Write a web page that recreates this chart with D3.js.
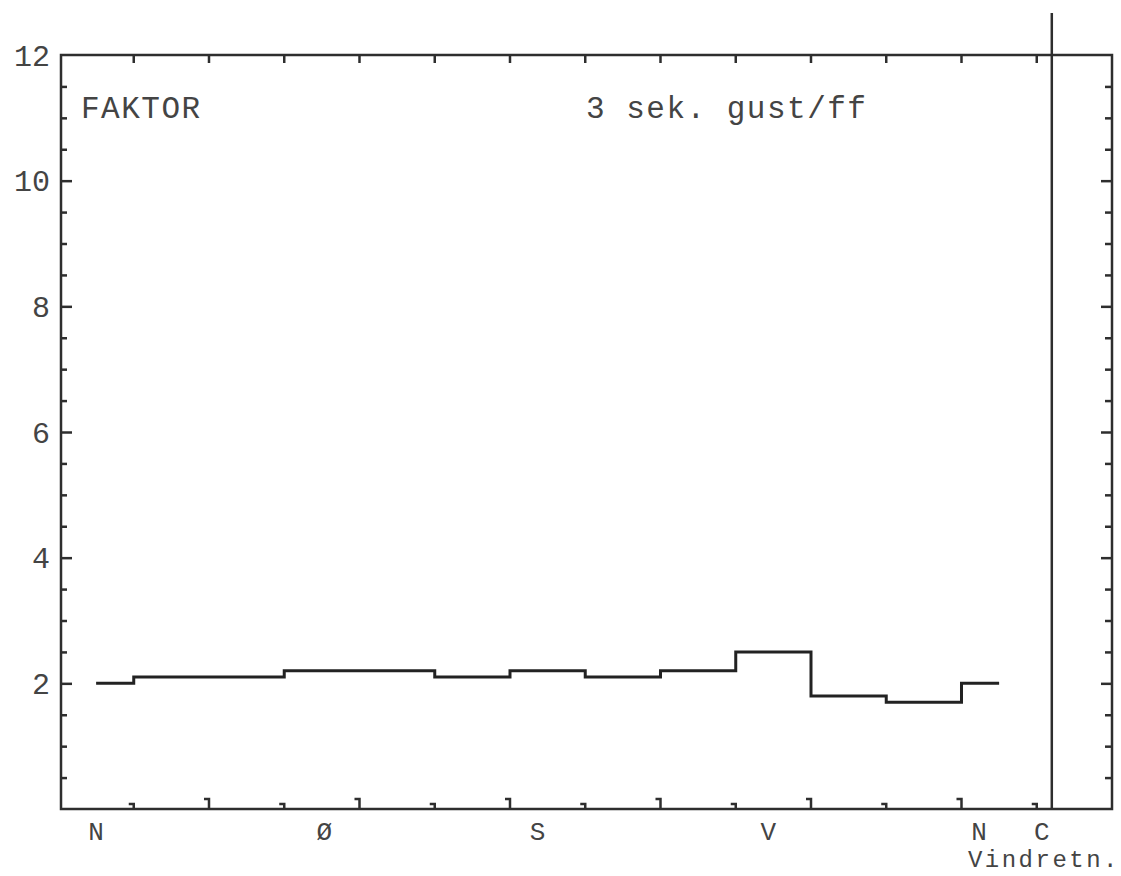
<!DOCTYPE html>
<html>
<head>
<meta charset="utf-8">
<script src="https://cdn.jsdelivr.net/npm/d3@7"></script>
<style>
  body { margin: 0; background: #fff; }
  text { font-family: "Courier New", "Liberation Mono", monospace; fill: #444; }
</style>
</head>
<body>
<div id="chart"></div>
<script>
// data //
var sectorDeg = [0, 30, 60, 90, 120, 150, 180, 210, 240, 270, 300, 330, 360],
    gustFactor = [2.0, 2.1, 2.1, 2.2, 2.2, 2.1, 2.2, 2.1, 2.2, 2.5, 1.8, 1.7, 2.0]

var yTickValues = [2, 4, 6, 8, 10, 12],
    dirLabels = ['N', 'Ø', 'S', 'V', 'N', 'C'],
    dirLabelDeg = [0, 91, 176, 268, 352, 377],
    calmDeg = 381

// svg //
var visWidth = 1121,
    visHeight = 876,
    ink = '#2e2e2e'

var vis = d3.select('#chart')
  .append('svg')
    .attr('width', visWidth)
    .attr('height', visHeight)

// scales
var x = d3.scaleLinear()
  .domain([-14, 405])
  .range([61, 1112])

var y = d3.scaleLinear()
  .domain([0, 12])
  .range([809, 55])

// frame
vis.append('rect')
  .attr('x', x(-14))
  .attr('y', y(12))
  .attr('width', x(405) - x(-14))
  .attr('height', y(0) - y(12))
  .attr('fill', 'none')
  .attr('stroke', ink)
  .attr('stroke-width', 2.5)

// left and right ticks, every half unit
var halfSteps = d3.range(0.5, 12, 0.5)

var sideAxis = d3.axisRight(y)
  .tickValues(halfSteps)
  .tickSize(0)
  .tickFormat('')

vis.append('g')
    .attr('transform', 'translate(' + x(-14) + ',0)')
    .call(sideAxis)
  .selectAll('.tick line')
    .attr('x2', function(d) { return d % 2 === 0 ? 11 : 6 })
    .attr('stroke', ink)
    .attr('stroke-width', 2.5)

vis.append('g')
    .attr('transform', 'translate(' + x(405) + ',0)')
    .call(sideAxis)
  .selectAll('.tick line')
    .attr('x2', function(d) { return d % 2 === 0 ? -11 : -7 })
    .attr('stroke', ink)
    .attr('stroke-width', 2.5)

vis.selectAll('.domain').remove()

// y labels
vis.append('g')
  .selectAll('text')
    .data(yTickValues).enter()
  .append('text')
    .attr('x', 50)
    .attr('y', function(d) { return y(d) })
    .attr('dy', '0.35em')
    .attr('text-anchor', 'end')
    .style('font-size', '30px')
    .text(function(d) { return d })

// top ticks at sector boundaries
var sectorEdges = d3.range(15, 380, 30)

vis.append('g')
  .selectAll('line')
    .data(sectorEdges).enter()
  .append('line')
    .attr('x1', function(d) { return x(d) })
    .attr('x2', function(d) { return x(d) })
    .attr('y1', y(12))
    .attr('y2', y(12) + 8)
    .attr('stroke', ink)
    .attr('stroke-width', 2.5)

// bottom ticks, plotter style with a small flag
vis.append('g')
  .selectAll('path')
    .data(sectorEdges).enter()
  .append('path')
    .attr('d', function(d, i) {
      var h = i % 2 === 1 ? 10 : 5,
          px = x(d),
          py = y(0)
      return 'M' + px + ',' + py + 'V' + (py - h) + 'H' + (px - 5)
    })
    .attr('fill', 'none')
    .attr('stroke', ink)
    .attr('stroke-width', 2.5)

// calm separator
vis.append('line')
  .attr('x1', x(calmDeg))
  .attr('x2', x(calmDeg))
  .attr('y1', 13)
  .attr('y2', y(0))
  .attr('stroke', ink)
  .attr('stroke-width', 2.5)

// gust factor steps
var stepLine = d3.line()
  .x(function(d, i) { return x(sectorDeg[i]) })
  .y(function(d) { return y(d) })
  .curve(d3.curveStep)

vis.append('path')
  .datum(gustFactor)
  .attr('d', stepLine)
  .attr('fill', 'none')
  .attr('stroke', '#222')
  .attr('stroke-width', 3)

// direction labels
vis.append('g')
  .selectAll('text')
    .data(dirLabels).enter()
  .append('text')
    .attr('x', function(d, i) { return x(dirLabelDeg[i]) })
    .attr('y', 840)
    .attr('text-anchor', 'middle')
    .style('font-size', '26px')
    .text(function(d) { return d })

vis.append('text')
  .attr('x', 1120)
  .attr('y', 867)
  .attr('text-anchor', 'end')
  .style('font-size', '24px')
  .style('letter-spacing', '2.5px')
  .text('Vindretn.')

// panel texts
vis.append('text')
  .attr('x', 81)
  .attr('y', 107)
  .attr('dy', '0.35em')
  .style('font-size', '31px')
  .style('letter-spacing', '1.5px')
  .text('FAKTOR')

vis.append('text')
  .attr('x', 586)
  .attr('y', 107)
  .attr('dy', '0.35em')
  .style('font-size', '31px')
  .style('letter-spacing', '1.5px')
  .text('3 sek. gust/ff')
</script>
</body>
</html>
